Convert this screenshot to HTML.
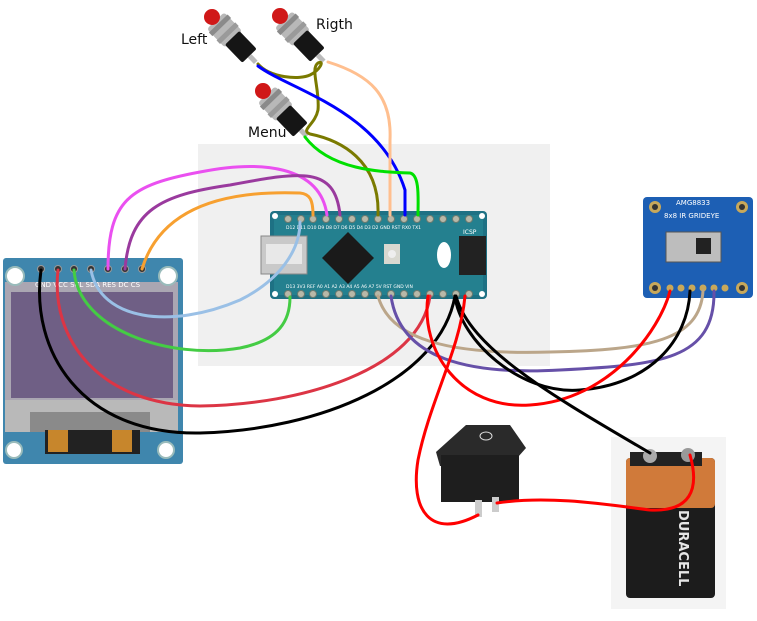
<!DOCTYPE html>
<html><head><meta charset="utf-8"><style>
html,body{margin:0;padding:0;background:#fff;}
svg{display:block;font-family:"DejaVu Sans","Liberation Sans",sans-serif;}
</style></head><body>
<svg width="757" height="621" viewBox="0 0 757 621" xmlns="http://www.w3.org/2000/svg">
<defs>
<g id="btn">
<rect x="5" y="-12" width="26" height="24" rx="3" fill="#b8b8b8"/>
<rect x="9" y="-13" width="5" height="26" fill="#8a8a8a"/>
<rect x="20" y="-13" width="5" height="26" fill="#9a9a9a"/>
<rect x="29" y="-10" width="25" height="20" rx="2" fill="#151515"/>
<rect x="54" y="-2.5" width="9" height="5" fill="#bbb"/>
<circle cx="0" cy="0" r="8" fill="#d01818"/>
</g>
</defs>
<rect width="757" height="621" fill="#fff"/>
<rect x="198" y="144" width="352" height="222" fill="#f0f0f0"/>

<!-- Arduino Nano -->
<rect x="270" y="211" width="217" height="88" rx="4" fill="#1e7184"/>
<rect x="274" y="215" width="209" height="80" rx="3" fill="#24808f"/>
<g fill="#b8b8a8" stroke="#6a7a70" stroke-width="1">
<circle cx="288" cy="219" r="3.5"/><circle cx="301" cy="219" r="3.5"/><circle cx="313" cy="219" r="3.5"/><circle cx="326" cy="219" r="3.5"/><circle cx="339" cy="219" r="3.5"/><circle cx="352" cy="219" r="3.5"/><circle cx="365" cy="219" r="3.5"/><circle cx="378" cy="219" r="3.5"/><circle cx="391" cy="219" r="3.5"/><circle cx="404" cy="219" r="3.5"/><circle cx="417" cy="219" r="3.5"/><circle cx="430" cy="219" r="3.5"/><circle cx="443" cy="219" r="3.5"/><circle cx="456" cy="219" r="3.5"/><circle cx="469" cy="219" r="3.5"/>
<circle cx="288" cy="294" r="3.5"/><circle cx="301" cy="294" r="3.5"/><circle cx="313" cy="294" r="3.5"/><circle cx="326" cy="294" r="3.5"/><circle cx="339" cy="294" r="3.5"/><circle cx="352" cy="294" r="3.5"/><circle cx="365" cy="294" r="3.5"/><circle cx="378" cy="294" r="3.5"/><circle cx="391" cy="294" r="3.5"/><circle cx="404" cy="294" r="3.5"/><circle cx="417" cy="294" r="3.5"/><circle cx="430" cy="294" r="3.5"/><circle cx="443" cy="294" r="3.5"/><circle cx="456" cy="294" r="3.5"/><circle cx="469" cy="294" r="3.5"/>
</g>
<circle cx="275" cy="216" r="3" fill="#fff"/><circle cx="482" cy="216" r="3" fill="#fff"/><circle cx="275" cy="294" r="3" fill="#fff"/><circle cx="482" cy="294" r="3" fill="#fff"/>
<rect x="261" y="236" width="46" height="38" fill="#c9c9c9" stroke="#888"/>
<rect x="266" y="244" width="36" height="20" fill="#e8e8e8"/>
<polygon points="348,232 374,258 348,284 322,258" fill="#1a1a1a"/>
<rect x="384" y="244" width="16" height="20" fill="#d8d8d0"/>
<circle cx="392" cy="254" r="4" fill="#eee"/>
<rect x="459" y="236" width="27" height="39" fill="#222"/>
<ellipse cx="444" cy="255" rx="7" ry="13" fill="#fff"/>
<text x="286" y="229" font-size="4.5" fill="#fff">D12 D11 D10 D9 D8 D7 D6 D5 D4 D3 D2 GND RST RX0 TX1</text>
<text x="286" y="288" font-size="4.5" fill="#fff">D13 3V3 REF A0 A1 A2 A3 A4 A5 A6 A7 5V RST GND VIN</text>
<text x="463" y="234" font-size="6" fill="#fff">ICSP</text>

<!-- OLED -->
<rect x="3" y="258" width="180" height="206" rx="3" fill="#3f86ad"/>
<rect x="5" y="282" width="173" height="125" fill="#aaa6b2"/>
<rect x="11" y="292" width="162" height="106" fill="#6f5f85"/>
<rect x="5" y="400" width="173" height="32" fill="#b9b9b9"/>
<rect x="30" y="412" width="120" height="20" fill="#8a8a8a"/>
<rect x="45" y="430" width="95" height="24" fill="#222"/>
<rect x="48" y="430" width="20" height="22" fill="#c7862c"/><rect x="112" y="430" width="20" height="22" fill="#c7862c"/>
<circle cx="15" cy="276" r="9" fill="#fff" stroke="#9bb" stroke-width="2"/>
<circle cx="168" cy="276" r="9" fill="#fff" stroke="#9bb" stroke-width="2"/>
<circle cx="14" cy="450" r="8" fill="#fff" stroke="#9bb" stroke-width="2"/>
<circle cx="166" cy="450" r="8" fill="#fff" stroke="#9bb" stroke-width="2"/>
<g fill="#333" stroke="#999"><circle cx="41" cy="269" r="3.5"/><circle cx="58" cy="269" r="3.5"/><circle cx="74" cy="269" r="3.5"/><circle cx="91" cy="269" r="3.5"/><circle cx="108" cy="269" r="3.5"/><circle cx="125" cy="269" r="3.5"/><circle cx="142" cy="269" r="3.5"/></g>
<text x="35" y="287" font-size="7" fill="#fff">GND VCC SCL SDA RES DC CS</text>

<!-- AMG8833 -->
<rect x="643" y="197" width="110" height="101" rx="4" fill="#1d5fb4"/>
<rect x="666" y="232" width="55" height="30" fill="#bdbdbd" stroke="#555"/>
<rect x="696" y="238" width="15" height="16" fill="#222"/>
<circle cx="655" cy="207" r="6" fill="#c8a85a"/><circle cx="742" cy="207" r="6" fill="#c8a85a"/>
<circle cx="655" cy="288" r="6" fill="#c8a85a"/><circle cx="742" cy="288" r="6" fill="#c8a85a"/>
<circle cx="655" cy="207" r="3" fill="#333"/><circle cx="742" cy="207" r="3" fill="#333"/><circle cx="655" cy="288" r="3" fill="#333"/><circle cx="742" cy="288" r="3" fill="#333"/>
<g fill="#c8a85a"><circle cx="670" cy="288" r="3.5"/><circle cx="681" cy="288" r="3.5"/><circle cx="692" cy="288" r="3.5"/><circle cx="703" cy="288" r="3.5"/><circle cx="714" cy="288" r="3.5"/><circle cx="725" cy="288" r="3.5"/></g>
<text x="676" y="205" font-size="7" fill="#fff">AMG8833</text>
<text x="664" y="218" font-size="7" fill="#fff">8x8 IR GRIDEYE</text>

<!-- Switch -->
<polygon points="436,452 466,425 510,425 526,448 510,466 440,466" fill="#2a2a2a"/>
<rect x="441" y="455" width="78" height="47" fill="#1e1e1e"/>
<ellipse cx="486" cy="436" rx="6" ry="4" fill="none" stroke="#ddd"/>
<rect x="475" y="500" width="7" height="17" fill="#ccc"/><rect x="492" y="497" width="7" height="15" fill="#ccc"/>

<!-- Battery -->
<rect x="611" y="437" width="115" height="172" fill="#f4f4f4"/>
<rect x="626" y="458" width="89" height="140" rx="4" fill="#1c1c1c"/>
<rect x="626" y="458" width="89" height="50" rx="4" fill="#d07a3a"/>
<rect x="630" y="452" width="72" height="14" fill="#222"/>
<circle cx="650" cy="456" r="7" fill="#aaa"/><circle cx="688" cy="455" r="7" fill="#999"/>
<text x="0" y="0" font-size="13" font-weight="bold" fill="#e6e6e6" transform="translate(679,510) rotate(90)">DURACELL</text>

<!-- Buttons -->
<use href="#btn" transform="translate(212,17) rotate(46)"/>
<use href="#btn" transform="translate(280,16) rotate(46)"/>
<use href="#btn" transform="translate(263,91) rotate(46)"/>
<text x="181" y="44" font-size="14" fill="#111">Left</text>
<text x="316" y="29" font-size="14" fill="#111">Rigth</text>
<text x="248" y="137" font-size="14" fill="#111">Menu</text>

<!-- Wires -->
<g fill="none" stroke-width="3" stroke-linecap="round">
<path d="M258,64 C270,78 300,80 310,75 C320,70 325,60 318,63 C310,68 320,90 318,110 C315,125 300,130 310,134 C340,140 380,160 378,215" stroke="#7a7a00"/>
<path d="M258,66 C290,90 380,110 405,190 L405,215" stroke="#0000ff"/>
<path d="M328,62 C370,75 392,95 390,140 L390,215" stroke="#ffbf8f"/>
<path d="M305,137 C330,170 380,172 410,173 C420,175 418,200 418,215" stroke="#00e000"/>
<path d="M108,269 C108,200 130,185 200,172 C260,160 320,165 327,215" stroke="#ea50f0"/>
<path d="M125,269 C130,210 160,195 230,185 C300,172 335,165 340,215" stroke="#9a3a9e"/>
<path d="M142,269 C160,210 220,190 300,193 C310,194 313,200 313,215" stroke="#f7a030"/>
<path d="M91,270 C100,320 170,330 240,300 C280,280 300,250 300,222" stroke="#9ac0e6"/>
<path d="M74,270 C78,330 170,360 240,348 C280,340 290,320 290,297" stroke="#44cc44"/>
<path d="M58,270 C50,340 100,405 200,406 C300,405 420,370 430,296" stroke="#dc3545"/>
<path d="M41,270 C30,350 80,435 200,433 C320,430 440,380 455,296" stroke="#000"/>
<path d="M378,296 C390,340 450,355 550,352 C650,350 700,340 703,291" stroke="#bba68a"/>
<path d="M391,296 C400,360 470,375 560,370 C660,365 715,360 714,291" stroke="#6650a8"/>
<path d="M455,296 C460,340 520,395 580,390 C650,385 688,340 690,291" stroke="#000"/>
<path d="M428,296 C420,350 460,410 530,405 C610,400 660,330 670,291" stroke="#f00"/>
<path d="M456,296 C470,350 560,400 650,453" stroke="#000"/>
<path d="M465,296 C460,350 430,400 418,460 C410,510 430,540 478,515" stroke="#f00"/>
<path d="M497,503 C550,495 610,505 650,510 C690,512 700,490 690,455" stroke="#f00"/>
</g>
</svg>
</body></html>
